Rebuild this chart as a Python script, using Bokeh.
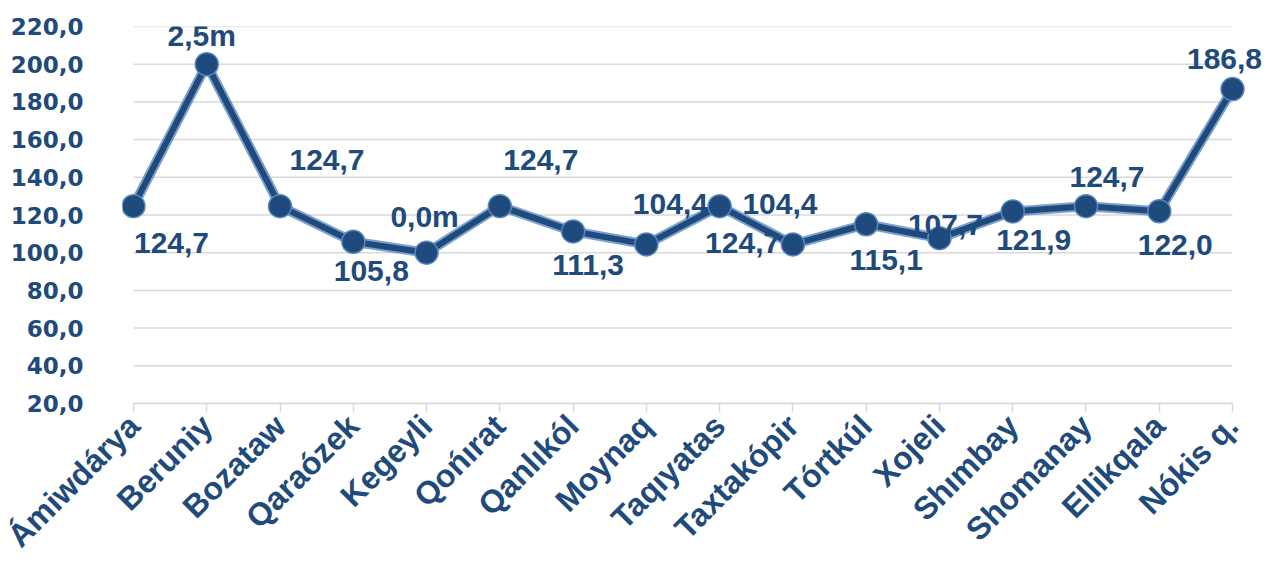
import math
from bokeh.plotting import figure
from bokeh.models import ColumnDataSource, LabelSet, FixedTicker, Range1d
from bokeh.core.properties import value
from bokeh.embed import file_html
from bokeh.resources import INLINE

categories = ["Ámiwdárya", "Beruniy", "Bozataw", "Qaraózek", "Kegeyli", "Qońırat",
              "Qanlıkól", "Moynaq", "Taqıyatas", "Taxtakópir", "Tórtkúl", "Xojeli",
              "Shımbay", "Shomanay", "Ellikqala", "Nókis q."]
values = [124.7, 200.0, 124.7, 105.8, 100.0, 124.7, 111.3, 104.4, 124.7, 104.4,
          115.1, 107.7, 121.9, 124.7, 122.0, 186.8]
point_labels = ["124,7", "2,5m", "124,7", "105,8", "0,0m", "124,7", "111,3", "104,4",
                "124,7", "104,4", "115,1", "107,7", "121,9", "124,7", "122,0", "186,8"]
y_ticks = [20, 40, 60, 80, 100, 120, 140, 160, 180, 200, 220]
y_tick_labels = ["20,0", "40,0", "60,0", "80,0", "100,0", "120,0", "140,0",
                 "160,0", "180,0", "200,0", "220,0"]

# label placement offsets (screen px)
label_dx = [38, -5, 47, 18, -2, 41, 15, 24, 23, -13, 20, 6, 21, 21, 16, -8]
label_dy = [-37, 29, 46, -29, 36, 46, -34, 40, -37, 40, -36, 13, -29, 29, -34, 30]

DARK = "#1f4a7c"
EDGE = "#5b87c0"
GRID = "#d9d9d9"

xs = list(range(len(categories)))
src = ColumnDataSource(dict(x=xs, y=values, lab=point_labels, dx=label_dx, dy=label_dy))
grid_src = ColumnDataSource(dict(x0=[xs[0]] * len(y_ticks), x1=[xs[-1]] * len(y_ticks),
                                 y=y_ticks))

p = figure(width=1265, height=569, output_backend="svg", toolbar_location=None,
           x_range=Range1d(-0.15, len(categories) - 1 + 0.45),
           y_range=Range1d(y_ticks[0], y_ticks[-1]),
           min_border_left=122, min_border_right=0, min_border_top=26, min_border_bottom=166)
p.outline_line_color = None
p.background_fill_color = "white"
p.border_fill_color = "white"

p.xgrid.visible = False
p.ygrid.visible = False
p.segment(x0="x0", x1="x1", y0="y", y1="y", source=grid_src,
          line_color=GRID, line_width=1.5)

p.yaxis.ticker = FixedTicker(ticks=y_ticks)
p.yaxis.major_label_overrides = {t: s for t, s in zip(y_ticks, y_tick_labels)}
p.yaxis.axis_line_color = None
p.yaxis.major_tick_line_color = None
p.yaxis.minor_tick_line_color = None
p.yaxis.major_tick_out = 6
p.yaxis.major_label_standoff = 33
p.yaxis.major_label_text_font = "DejaVu Sans"
p.yaxis.major_label_text_font_style = "bold"
p.yaxis.major_label_text_font_size = "23px"
p.yaxis.major_label_text_color = DARK

p.xaxis.ticker = FixedTicker(ticks=xs)
p.xaxis.major_label_overrides = {i: c for i, c in zip(xs, categories)}
p.xaxis.bounds = (xs[0], xs[-1])
p.xaxis.axis_line_color = GRID
p.xaxis.axis_line_width = 1.5
p.xaxis.major_tick_line_color = GRID
p.xaxis.major_tick_line_width = 1.5
p.xaxis.major_tick_out = 9
p.xaxis.major_tick_in = 0
p.xaxis.minor_tick_line_color = None
p.xaxis.major_label_orientation = math.pi / 4
p.xaxis.major_label_standoff = 8
p.xaxis.major_label_text_font = "Liberation Sans"
p.xaxis.major_label_text_font_style = "bold"
p.xaxis.major_label_text_font_size = "32px"
p.xaxis.major_label_text_color = DARK

p.line("x", "y", source=src, line_width=10, line_color=EDGE, line_alpha=0.8, line_join="round")
p.line("x", "y", source=src, line_width=6, line_color=DARK, line_join="round")
p.scatter("x", "y", source=src, size=23, fill_color=DARK, line_color=EDGE, line_width=1.5)

labels = LabelSet(x="x", y="y", text="lab", x_offset="dx", y_offset="dy", source=src,
                  text_align="center", text_baseline="middle",
                  text_font=value("Arial"), text_font_style="bold",
                  text_font_size="30px", text_color=DARK)
p.add_layout(labels)

open("out.html", "w").write(file_html(p, INLINE))
